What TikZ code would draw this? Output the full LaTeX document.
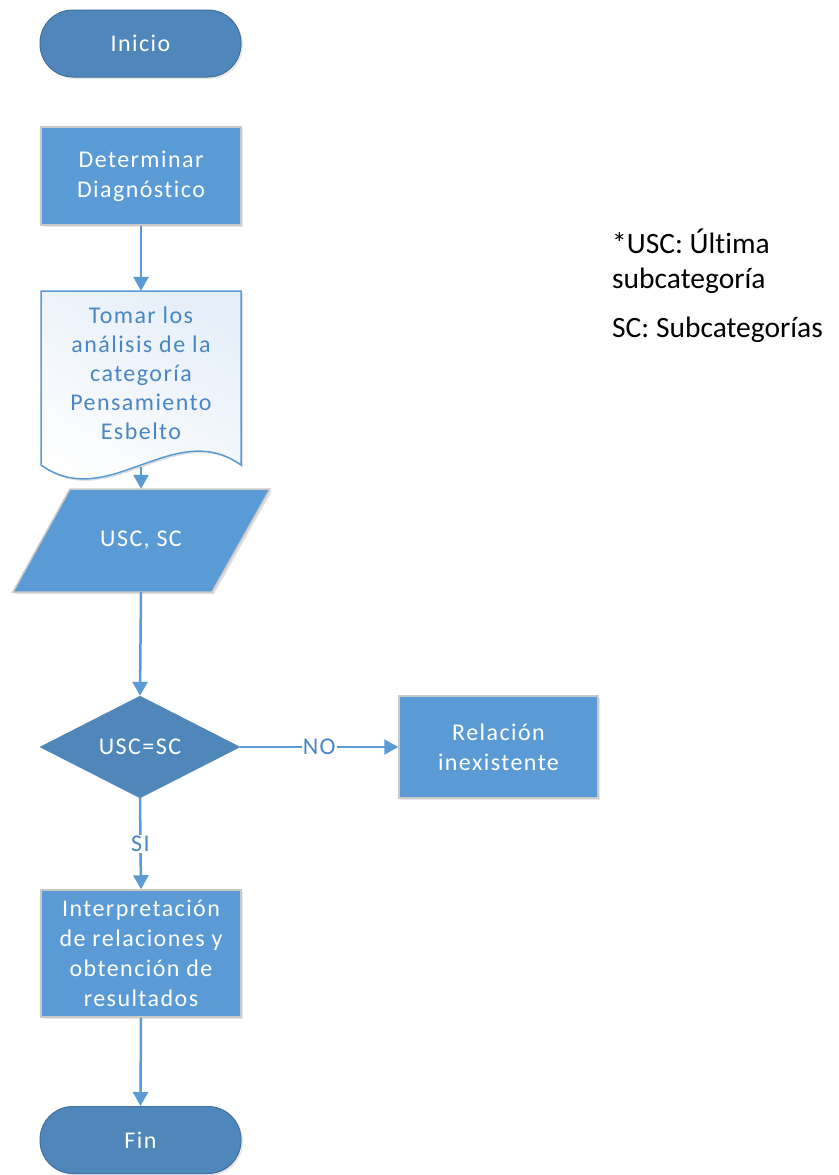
\documentclass[tikz,border=0pt]{standalone}
\usepackage{fontspec}
\setmainfont[Ligatures=NoCommon]{Carlito}
\newfontfamily\boxfont[LetterSpace=6,Ligatures=NoCommon]{Carlito}
\usetikzlibrary{shapes.geometric,arrows.meta,shadows}
\definecolor{mainblue}{HTML}{5B9BD5}
\definecolor{darkblue}{HTML}{4F87BB}
\definecolor{edgeblue}{HTML}{41719C}
\definecolor{textblue}{HTML}{4A86C5}
\definecolor{boxedge}{HTML}{C9C9C9}
\definecolor{docfill}{HTML}{E6EFF9}
\tikzset{
  x=1pt, y=-1pt,
  shade1/.style={drop shadow={opacity=0.18, shadow xshift=2pt, shadow yshift=-2pt}},
  term/.style={draw=edgeblue, line width=1pt, fill=darkblue, rounded corners=33pt,
    minimum width=201pt, minimum height=67pt, text=white, font=\boxfont\fontsize{24}{29}\selectfont, shade1},
  procbox/.style={draw=boxedge, line width=1.5pt, fill=mainblue, minimum width=200pt,
    text=white, align=center, font=\boxfont\fontsize{24}{30}\selectfont, shade1},
  decis/.style={diamond, fill=darkblue, draw=darkblue, minimum width=200pt, minimum height=102pt,
    inner sep=0pt, text=white, font=\boxfont\fontsize{24}{29}\selectfont},
  flow/.style={draw=mainblue, line width=2.5pt, -{Triangle[width=15pt,length=14pt]}},
  lbl/.style={fill=white, text=textblue, inner sep=1pt, font=\boxfont\fontsize{24}{29}\selectfont},
  note/.style={anchor=base west, inner sep=0pt, font=\fontsize{29.5}{35}\selectfont, text=black}
}
\begin{document}
\begin{tikzpicture}
\useasboundingbox (0,0) rectangle (838,1175);
\fill[white] (0,0) rectangle (838,1175);

% Inicio
\node[term] (ini) at (140.5,43.5) {Inicio};

% Determinar
\node[procbox, minimum height=98pt] (det) at (141,176) {Determinar\\Diagnóstico};

% Document shape
\fill[black, opacity=0.12] (43,293) -- (243,293) -- (243,467)
  .. controls (176,419) and (110,515) .. (43,467) -- cycle;
\shade[top color=docfill, bottom color=white, shading angle=-30]
  (41,291) -- (241,291) -- (241,465)
  .. controls (174,417) and (108,513) .. (41,465) -- cycle;
\draw[mainblue, line width=1.5pt]
  (41,291) -- (241,291) -- (241,465)
  .. controls (174,417) and (108,513) .. (41,465) -- cycle;
\node[align=center, text=textblue, font=\boxfont\fontsize{24}{29}\selectfont,
  minimum width=200pt, minimum height=174pt, inner sep=0pt] (doc) at (141,378) {};
\node[align=center, text=textblue, font=\boxfont\fontsize{24}{29}\selectfont, inner sep=0pt]
  (doctext) at (141,373)
  {Tomar los\\análisis de la\\categoría\\Pensamiento\\Esbelto};
\coordinate (docb) at (141,467);

% Parallelogram
\fill[black, opacity=0.12] (72,491) -- (272,491) -- (214,594) -- (15,594) -- cycle;
\draw[boxedge, line width=1.5pt, fill=mainblue] (70,489) -- (270,489) -- (212,592) -- (13,592) -- cycle;
\node[minimum width=200pt, minimum height=103pt, inner sep=0pt, text=white,
  font=\boxfont\fontsize{24}{29}\selectfont] (io) at (141,540.5) {USC, SC};

% Decision
\node[decis] (dec) at (140,747) {USC=SC};

% Relacion inexistente
\node[procbox, minimum width=199pt, minimum height=102pt] (rel) at (498.5,747) {Relación\\inexistente};

% Interpretacion
\node[procbox, minimum height=127pt] (int) at (141,953.5) {Interpretación\\de relaciones y\\obtención de\\resultados};

% Fin
\node[term] (fin) at (140.5,1140) {Fin};

% Connectors
\draw[flow] (det.south) -- (doc.north);
\draw[flow] (docb) -- (io.north);
\draw[flow] (io.south) -- (dec.north);
\draw[flow] (dec.east) -- node[lbl] {NO} (rel.west);
\draw[flow] (dec.south) -- node[lbl] {SI} (int.north);
\draw[flow] (int.south) -- (fin.north);

% Notes
\node[note] (n1) at (612,253) {*USC: Última};
\node[note] (n2) at (612,288) {subcategoría};
\node[note] (n3) at (612,337) {SC: Subcategorías};
\end{tikzpicture}
\end{document}
